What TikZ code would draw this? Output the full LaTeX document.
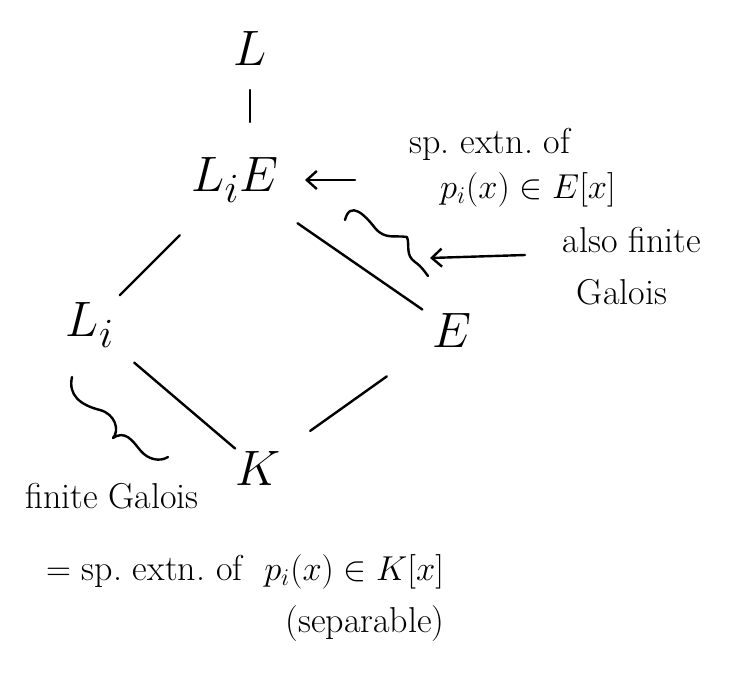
\documentclass[tikz,border=0pt]{standalone}
\usepackage{amsmath,amssymb}
\usepackage{tikz}
\usetikzlibrary{arrows.meta,positioning,calc}
\tikzset{
  fld/.style={inner sep=2pt, font=\fontsize{30}{34}\selectfont},
  note/.style={inner sep=1pt, align=center, font=\fontsize{18}{22}\selectfont},
  edge/.style={line width=1.2pt, line cap=round},
  arr/.style={-{Straight Barb[length=5pt,width=9pt,line width=1.2pt]}, line width=1.2pt, line cap=round},
  squig/.style={line width=1.2pt, line cap=round, line join=round},
}

\begin{document}
\begin{tikzpicture}[x=0.5pt,y=-0.5pt]
\useasboundingbox (0,0) rectangle (751,687);
% the field diagram
\node[fld] (L) at (250,48) {$L$};
\node[fld] (LiE) at (235,180) {$L_iE$};
\node[fld] (Li) at (90,325) {$L_i$};
\node[fld] (E) at (452,330) {$E$};
\node[fld] (K) at (258,468) {$K$};
\draw[edge, shorten <=21pt, shorten >=29pt] (L.center) -- (L.center |- LiE.center);
\draw[edge, shorten <=39pt, shorten >=21pt] (LiE.center) -- (Li.center);
\draw[edge, shorten <=38pt, shorten >=18pt] (LiE.center) -- (E.center);
\draw[edge, shorten <=29pt, shorten >=15pt] (Li.center) -- (K.center);
\draw[edge, shorten <=40pt, shorten >=32pt] (E.center) -- (K.center);
% notes
\node[note] (spE1) at (490,144) {sp.\ extn.\ of};
\node[note] (spE2) at (528,190) {$p_i(x)\in E[x]$};
\node[note] (fin1) at (632,240) {also finite};
\node[note] (fin2) at (622,292) {Galois};
\node[note] (fin3) at (112,496) {finite Galois};
\node[note] (spK) at (245,572) {$=$ sp.\ extn.\ of \ $p_i(x)\in K[x]$};
\node[note] (sep) at (365,624) {(separable)};
% squiggles and arrows
\draw[squig] (345,220) .. controls (350,200) and (365,215) .. (375,228)
  .. controls (385,240) and (395,235) .. (407,237)
  .. controls (410,245) and (405,255) .. (415,262)
  .. controls (422,267) and (425,272) .. (428,276);
\coordinate (tipE) at (430,258);
\draw[squig] (72,377) .. controls (68,395) and (80,405) .. (100,410)
  .. controls (115,414) and (120,430) .. (113,438)
  .. controls (125,430) and (132,440) .. (140,450)
  .. controls (148,460) and (160,462) .. (168,457);
\coordinate (a1) at (355,180);
\coordinate (a2) at (525,255);
\draw[arr, shorten >=35pt] (a1) -- (LiE.center);
\draw[arr] (a2) -- (tipE);
\end{tikzpicture}
\end{document}
